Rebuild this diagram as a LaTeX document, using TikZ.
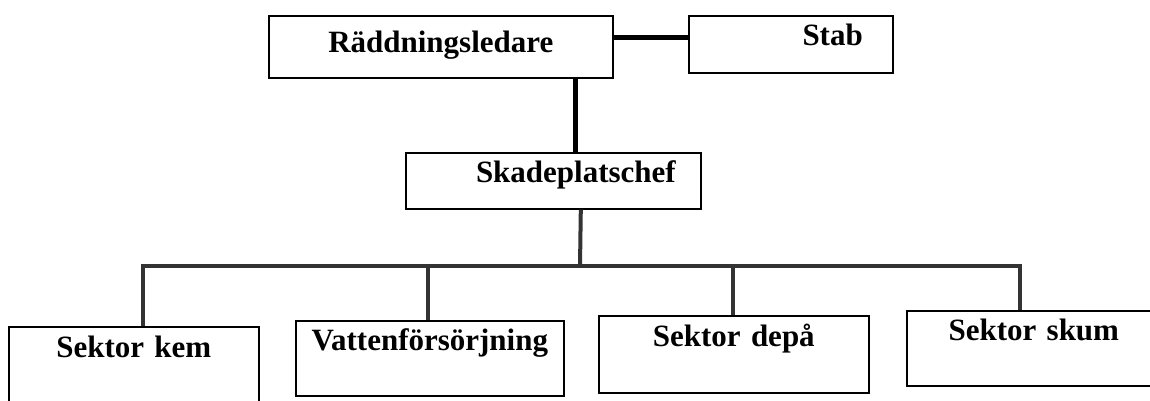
\documentclass[tikz,border=0pt]{standalone}
\usepackage{fontspec}
\setmainfont{Liberation Serif}
\tikzset{
  ruta/.style={draw, line width=1.6pt, inner sep=0pt, anchor=north west, align=center,
    font=\fontsize{31}{36}\selectfont\bfseries},
  led/.style={line width=5pt, line cap=butt},
  gren/.style={line width=4pt, black!80, line join=miter},
}
\begin{document}
\begin{tikzpicture}[x=1pt, y=-1pt]
  \useasboundingbox (0,0) rectangle (1150,400);
  \clip (0,0) rectangle (1150,400);
  % ledning
  \node[ruta, text width=344pt, text height=37pt, text depth=25pt] (rl) at (268,15) {Räddningsledare};
  \node[ruta, text width=144pt, inner xsep=30pt, align=right, text height=30pt, text depth=27pt] (stab) at (688,15) {Stab};
  \node[ruta, text width=245pt, inner xsep=25pt, align=right, text height=30pt, text depth=26pt] (skade) at (405,152) {Skadeplatschef};
  % sektorer
  \node[ruta, text width=250pt, text height=31pt, text depth=45pt] (kem) at (8,326) {Sektor kem};
  \node[ruta, text width=268pt, text height=30pt, text depth=45pt] (vatten) at (295,320) {Vattenförsörjning};
  \node[ruta, text width=270pt, text height=31pt, text depth=46pt] (depa) at (598,315) {Sektor depå};
  \node[ruta, text width=254pt, text height=30pt, text depth=45pt] (skum) at (906,310) {Sektor skum};
  % linjer
  \draw[led] ([yshift=9pt]rl.east) -- ([yshift=9pt]rl.east -| stab.west);
  \draw[led] ([xshift=135pt]rl.south) -- ([xshift=135pt]rl.south |- skade.north);
  \coordinate (buss) at (580,266);
  \coordinate (b1) at (143,266);
  \coordinate (b2) at (428,266);
  \coordinate (b3) at (733,266);
  \coordinate (b4) at (1020,266);
  \draw[gren] ([xshift=27.5pt]skade.south) -- (buss);
  \draw[gren] (b1 |- kem.north) -- (b1) -- (b4) -- (b4 |- skum.north);
  \draw[gren] (b2) -- (b2 |- vatten.north);
  \draw[gren] (b3) -- (b3 |- depa.north);
\end{tikzpicture}
\end{document}
